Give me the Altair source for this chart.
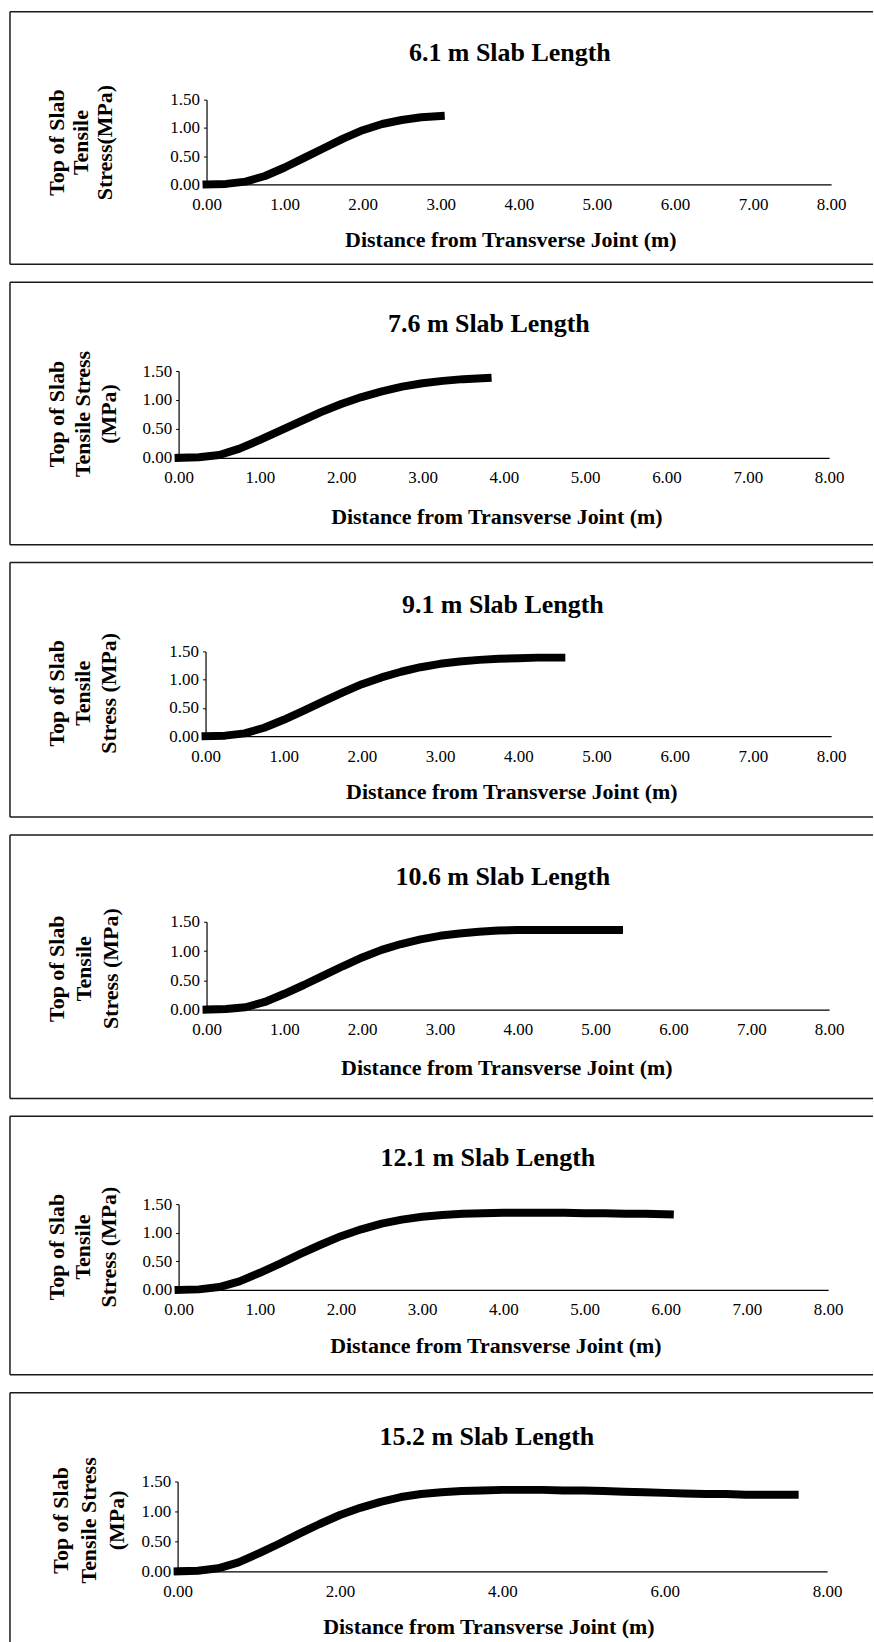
import altair as alt
import pandas as pd

FONT = "Liberation Serif"

# ---------------- data ----------------
panel_titles = ["6.1 m Slab Length", "7.6 m Slab Length", "9.1 m Slab Length",
                "10.6 m Slab Length", "12.1 m Slab Length", "15.2 m Slab Length"]
y_titles = [
    ["Top of Slab", "Tensile", "Stress(MPa)"],
    ["Top of Slab", "Tensile Stress", "(MPa)"],
    ["Top of Slab", "Tensile", "Stress (MPa)"],
    ["Top of Slab", "Tensile", "Stress (MPa)"],
    ["Top of Slab", "Tensile", "Stress (MPa)"],
    ["Top of Slab", "Tensile Stress", "(MPa)"],
]
x_title = "Distance from Transverse Joint (m)"

dist_61 = [0, 0.25, 0.5, 0.75, 1.0, 1.25, 1.5, 1.75, 2.0, 2.25, 2.5, 2.75, 3.0]
stress_61 = [0.00, 0.01, 0.05, 0.15, 0.30, 0.47, 0.64, 0.81, 0.96, 1.07, 1.14, 1.19, 1.21]

dist_76 = [0, 0.25, 0.5, 0.75, 1.0, 1.25, 1.5, 1.75, 2.0, 2.25, 2.5, 2.75, 3.0, 3.25, 3.5, 3.8]
stress_76 = [0.00, 0.01, 0.05, 0.16, 0.31, 0.47, 0.63, 0.79, 0.93, 1.05, 1.15, 1.23, 1.29, 1.33, 1.36, 1.38]

dist_91 = [0, 0.25, 0.5, 0.75, 1.0, 1.25, 1.5, 1.75, 2.0, 2.25, 2.5, 2.75, 3.0, 3.25, 3.5,
           3.75, 4.0, 4.25, 4.55]
stress_91 = [0.00, 0.01, 0.05, 0.15, 0.29, 0.45, 0.61, 0.77, 0.92, 1.04, 1.14, 1.22, 1.28, 1.32, 1.35,
             1.37, 1.38, 1.39, 1.39]

dist_106 = [0, 0.25, 0.5, 0.75, 1.0, 1.25, 1.5, 1.75, 2.0, 2.25, 2.5, 2.75, 3.0, 3.25, 3.5,
            3.75, 4.0, 4.25, 4.5, 4.75, 5.0, 5.3]
stress_106 = [0.00, 0.01, 0.04, 0.13, 0.27, 0.42, 0.58, 0.74, 0.89, 1.02, 1.12, 1.20, 1.26, 1.30, 1.33,
              1.35, 1.36, 1.36, 1.36, 1.36, 1.36, 1.36]

dist_121 = [0, 0.25, 0.5, 0.75, 1.0, 1.25, 1.5, 1.75, 2.0, 2.25, 2.5, 2.75, 3.0, 3.25, 3.5,
            3.75, 4.0, 4.25, 4.5, 4.75, 5.0, 5.25, 5.5, 5.75, 6.05]
stress_121 = [0.00, 0.01, 0.05, 0.15, 0.30, 0.46, 0.63, 0.79, 0.94, 1.06, 1.16, 1.23, 1.28, 1.31, 1.33,
              1.34, 1.35, 1.35, 1.35, 1.35, 1.34, 1.34, 1.33, 1.33, 1.32]

dist_152 = [0, 0.25, 0.5, 0.75, 1.0, 1.25, 1.5, 1.75, 2.0, 2.25, 2.5, 2.75, 3.0, 3.25, 3.5,
            3.75, 4.0, 4.25, 4.5, 4.75, 5.0, 5.25, 5.5, 5.75, 6.0, 6.25, 6.5, 6.75, 7.0, 7.25,
            7.5, 7.6]
stress_152 = [0.00, 0.01, 0.05, 0.15, 0.30, 0.46, 0.63, 0.79, 0.94, 1.06, 1.16, 1.24, 1.29, 1.32, 1.34,
              1.35, 1.36, 1.36, 1.36, 1.35, 1.35, 1.34, 1.33, 1.32, 1.31, 1.30, 1.29, 1.29, 1.28, 1.28,
              1.28, 1.28]

y_ticks = [0, 0.5, 1.0, 1.5]
x_ticks_fine = [0, 1, 2, 3, 4, 5, 6, 7, 8]
x_ticks_coarse = [0, 2, 4, 6, 8]

series = [(dist_61, stress_61), (dist_76, stress_76), (dist_91, stress_91),
          (dist_106, stress_106), (dist_121, stress_121), (dist_152, stress_152)]

# ---------------- layout (pixels, per panel) ----------------
W = 865
# height, x0, x8, y0, y15, title(x,y), ytitle first-line (x,y), xtitle(x,y), ticks
layout = [
    dict(H=253, x0=197, x8=823, y0=173, y15=88, t=(501, 49), yt=(47, 131), lh=24, xt=(502, 236), tk=x_ticks_fine),
    dict(H=263, x0=169, x8=821, y0=176, y15=89, t=(480, 50), yt=(47, 132), lh=26, xt=(488, 242), tk=x_ticks_fine),
    dict(H=255, x0=196, x8=823, y0=174, y15=89, t=(494, 51), yt=(47, 131), lh=26, xt=(503, 237), tk=x_ticks_fine),
    dict(H=264, x0=197, x8=821, y0=175, y15=87, t=(494, 50), yt=(47, 134), lh=27, xt=(498, 241), tk=x_ticks_fine),
    dict(H=259, x0=169, x8=820, y0=174, y15=88, t=(479, 50), yt=(47, 131), lh=26, xt=(487, 237), tk=x_ticks_fine),
    dict(H=257, x0=168, x8=819, y0=179, y15=89, t=(478, 52), yt=(51, 128), lh=28, xt=(480, 242), tk=x_ticks_coarse),
]


def panel(i):
    L = layout[i]
    H = L["H"]
    d, s = series[i]
    df = pd.DataFrame({"d": d, "s": s})
    one = pd.DataFrame({"k": [0]})

    border_col = "#1a1a1a"
    top = alt.Chart(one).mark_rule(color=border_col, strokeWidth=1.5).encode(
        x=alt.value(0), x2=alt.value(W), y=alt.value(0))
    left = alt.Chart(one).mark_rule(color=border_col, strokeWidth=1.5).encode(
        x=alt.value(0), y=alt.value(0), y2=alt.value(H))
    bottom = alt.Chart(one).mark_rule(color=border_col, strokeWidth=1.5).encode(
        x=alt.value(0), x2=alt.value(W), y=alt.value(H))

    title = alt.Chart(pd.DataFrame({"t": [panel_titles[i]]})).mark_text(
        font=FONT, fontSize=26, fontWeight="bold", align="center", baseline="alphabetic", color="black"
    ).encode(text="t:N", x=alt.value(L["t"][0]), y=alt.value(L["t"][1]))

    ytitle = alt.Chart(one).mark_text(
        font=FONT, fontSize=22, fontWeight="bold", align="center", baseline="middle", color="black",
        angle=270, lineHeight=L["lh"], text=y_titles[i]
    ).encode(x=alt.value(L["yt"][0]), y=alt.value(L["yt"][1]))

    xtitle = alt.Chart(pd.DataFrame({"t": [x_title]})).mark_text(
        font=FONT, fontSize=22, fontWeight="bold", align="center", baseline="alphabetic", color="black"
    ).encode(text="t:N", x=alt.value(L["xt"][0]), y=alt.value(L["xt"][1]))

    xs = alt.Scale(domain=[0, 8], range=[L["x0"], L["x8"]], nice=False, zero=False)
    ys = alt.Scale(domain=[0, 1.5], range=[L["y0"], L["y15"]], nice=False, zero=False)

    line = alt.Chart(df).mark_line(
        color="black", strokeWidth=8, strokeCap="square", strokeJoin="round", clip=False
    ).encode(
        x=alt.X("d:Q", scale=xs, axis=alt.Axis(
            values=L["tk"], format=".2f", title=None, orient="bottom", offset=-(H - L["y0"]),
            grid=False, ticks=False, tickSize=0, labelPadding=12, labelFont=FONT, labelFontSize=17,
            labelColor="black", domainColor="black", domainWidth=1.2, labelFlush=False,
            labelOverlap=False, labelBound=False)),
        y=alt.Y("s:Q", scale=ys, axis=alt.Axis(
            values=y_ticks, format=".2f", title=None, orient="left", offset=-L["x0"],
            grid=False, ticks=True, tickSize=3, tickColor="black", labelPadding=4,
            labelFont=FONT, labelFontSize=17, labelColor="black", domainColor="black",
            domainWidth=1.2, labelFlush=False, labelOverlap=False, labelBound=False)),
    )

    return alt.layer(top, left, bottom, title, ytitle, xtitle, line).properties(width=W, height=H)


chart = alt.vconcat(*[panel(i) for i in range(6)], spacing=16).properties(
    padding={"left": 9, "top": 9, "right": 0, "bottom": 0},
    background="white",
).configure_view(strokeWidth=0)

chart.save("out.html", embed_options={"renderer": "svg", "actions": False})
